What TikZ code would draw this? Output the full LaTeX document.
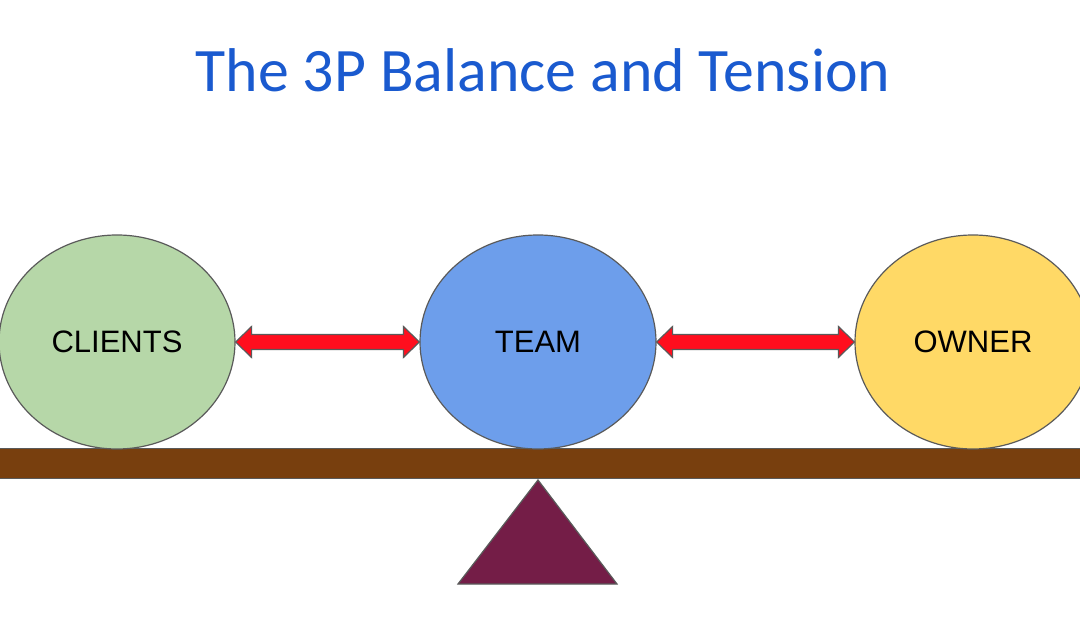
\documentclass[tikz,border=0pt]{standalone}
\usepackage{fontspec}
\setmainfont{Liberation Sans}
\newfontfamily\titlefont{Carlito}
\usetikzlibrary{shapes.geometric,calc}
\definecolor{titleblue}{HTML}{1A5ACF}
\definecolor{cgreen}{HTML}{B6D7A8}
\definecolor{cblue}{HTML}{6D9EEB}
\definecolor{cyellow}{HTML}{FFD966}
\definecolor{beambrown}{HTML}{783F0E}
\definecolor{fulcrum}{HTML}{741D47}
\definecolor{arrowred}{HTML}{FF0E1E}
\definecolor{edgegray}{HTML}{5A5A5A}
\tikzset{
  ball/.style={ellipse, draw=edgegray, line width=1.2pt, minimum width=236pt, minimum height=214pt, inner sep=0pt, font=\fontsize{31}{36}\selectfont},
  dblarrow/.style={fill=arrowred, draw=edgegray, line width=1.2pt, line join=miter},
}
\begin{document}
\begin{tikzpicture}[x=1pt,y=1pt]
\useasboundingbox (0,0) rectangle (1080,-636);
\node[font=\titlefont\fontsize{61.8}{72}\selectfont, text=titleblue, anchor=base] (title) at (543,-92) {The 3P Balance and Tension};
% beam
\draw[fill=beambrown, draw=edgegray, line width=1pt] (-2,-449) rectangle (1082,-479);
% fulcrum
\draw[fill=fulcrum, draw=edgegray, line width=1.2pt, line join=miter] (538,-480) -- (617,-584) -- (458,-584) -- cycle;
% balls
\node[ball, fill=cgreen] (c) at (117,-342) {\raisebox{-1pt}{CLIENTS}};
\node[ball, fill=cblue] (t) at (538,-342) {\raisebox{-1pt}{TEAM}};
\node[ball, fill=cyellow] (o) at (973,-342) {\raisebox{-1pt}{OWNER}};
% arrows
\draw[dblarrow] (c.east) -- ++(16,15.5) -- ++(0,-8) -- ($(t.west)+(-16,7.5)$) -- ++(0,8) -- (t.west) -- ++(-16,-15.5) -- ++(0,8) -- ($(c.east)+(16,-7.5)$) -- ++(0,-8) -- cycle;
\draw[dblarrow] (t.east) -- ++(16,15.5) -- ++(0,-8) -- ($(o.west)+(-16,7.5)$) -- ++(0,8) -- (o.west) -- ++(-16,-15.5) -- ++(0,8) -- ($(t.east)+(16,-7.5)$) -- ++(0,-8) -- cycle;
\end{tikzpicture}
\end{document}
